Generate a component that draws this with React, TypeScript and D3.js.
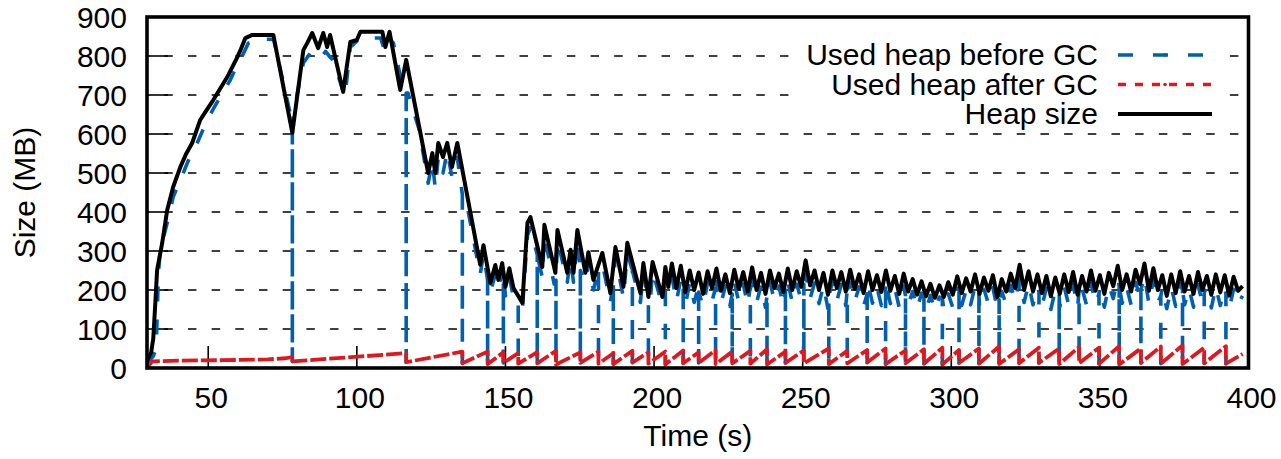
import React from "react";
import * as d3 from "d3";

// ---------- axis ticks ----------
const xTicks = [50, 100, 150, 200, 250, 300, 350, 400];
const yTicks = [0, 100, 200, 300, 400, 500, 600, 700, 800, 900];
const gridTicks = [100, 200, 300, 400, 500, 600, 700, 800];

// ---------- Heap size (black), hand-read (time s, MB) ----------
const heapEarlyT = [29.4, 30.8, 31.5, 32.2, 32.8, 34.5, 36.2, 38.2, 40.6, 42.5, 44.6, 47.3, 49.5, 51.7, 54, 56.4, 58, 59.8, 61, 62.5, 64.8, 71.9, 78.3, 82, 83.3, 85, 87, 88.7, 90, 91, 95.4, 97.8, 100, 101.2, 108.6, 109.6, 111, 114.6, 116.6, 124, 125.4, 126.4, 127.4, 129, 130.4, 132, 133.8, 141.5, 142.6, 144.9, 146.6, 147.6, 148.9, 150, 151.3, 152.7, 155.7, 157.4, 158.4, 162.4, 163.1, 166.8, 167.5, 170.8, 171.9, 172.9, 174.2, 176.9, 177.9, 179.6, 182.6, 185.3, 187, 189.7, 191, 195.4, 196.4, 198.1, 199.5, 202.8, 203.8, 204.8];
const heapEarlyV = [18, 40, 75, 167, 251, 320, 405, 464, 515, 548, 577, 636, 662, 687, 716, 746, 770, 797, 818, 846, 854, 854, 603, 815, 833, 859, 820, 859, 823, 854, 708, 836, 841, 862, 862, 823, 862, 713, 790, 500, 551, 500, 577, 541, 577, 515, 577, 265, 315, 218, 264, 226, 269, 208, 256, 205, 167, 372, 387, 259, 367, 244, 354, 244, 303, 244, 354, 244, 297, 226, 295, 192, 310, 208, 321, 192, 269, 182, 272, 182, 259, 208];

// late part: one reading every 1.5 s from 206 s
const lateStart = 206;
const lateStep = 1.5;
const heapLate = [
  268, 205, 262, 195, 250, 200, 245, 190, 248, 205,
  255, 198, 240, 192, 252, 203, 246, 196, 258, 200,
  244, 190, 250, 205, 242, 195, 255, 200, 248, 208,
  276, 212, 250, 200, 244, 188, 250, 205, 246, 196,
  252, 203, 240, 192, 248, 200, 238, 195, 250, 198,
  236, 190, 242, 196, 228, 188, 222, 184, 216, 180,
  212, 182, 220, 188, 235, 192, 230, 196, 240, 190,
  232, 198, 238, 182, 228, 196, 242, 205, 265, 200,
  248, 196, 240, 192, 236, 184, 232, 190, 240, 195,
  246, 188, 236, 196, 250, 198, 238, 190, 244, 210,
  262, 200, 240, 196, 252, 215, 268, 198, 256, 200,
  238, 185, 240, 192, 248, 196, 236, 190, 246, 200,
  236, 188, 240, 194, 238, 186, 234, 198, 210,
];

// ---------- Used heap before GC (blue), hand-read ----------
const usedEarlyT = [29.4, 30.5, 31.5, 32.5, 33.2, 33.8, 36.2, 38.2, 41.6, 44, 46.3, 49.7, 52, 54, 57.4, 59, 60.8, 63.5, 66.5, 72, 80, 82, 85, 86.5, 88.4, 89.5, 91, 92, 96, 97.8, 101.2, 108, 109.6, 110.6, 112.3, 115.6, 117.2, 121, 124, 125.4, 126.4, 127.4, 129, 130.4, 132, 133.8, 137, 141.5, 142.6, 144.9, 146.6, 147.6, 148.9, 150, 151.3, 152.7, 155.7, 157.4, 158.4, 162.4, 163.1, 166.4, 167.5, 170.8, 171.9, 172.9, 174.2, 176.9, 177.9, 179.6, 182.6, 185.3, 187, 189.7, 191, 195.4, 196.4, 198.6, 199.5, 202.8, 204.3];
const usedEarlyV = [8, 22, 30, 50, 233, 300, 372, 438, 500, 545, 577, 636, 668, 695, 738, 765, 790, 833, 843, 843, 705, 782, 815, 805, 800, 812, 797, 790, 695, 823, 846, 846, 808, 846, 833, 713, 705, 610, 474, 530, 460, 540, 500, 556, 490, 540, 420, 240, 292, 195, 240, 205, 245, 185, 232, 182, 150, 340, 360, 232, 338, 215, 328, 220, 280, 220, 330, 220, 270, 200, 268, 168, 285, 180, 295, 168, 245, 160, 248, 160, 232];
const usedLate = [
  235, 170, 228, 160, 220, 168, 212, 158, 218, 172,
  222, 165, 210, 158, 220, 170, 215, 162, 226, 168,
  212, 155, 220, 172, 210, 160, 222, 168, 215, 175,
  240, 178, 218, 165, 212, 152, 220, 172, 214, 160,
  220, 170, 208, 158, 216, 166, 206, 160, 218, 165,
  204, 155, 210, 162, 196, 152, 192, 150, 186, 148,
  182, 150, 190, 155, 205, 160, 200, 162, 210, 155,
  202, 165, 206, 150, 196, 162, 212, 172, 232, 168,
  216, 162, 208, 158, 205, 150, 200, 156, 208, 162,
  214, 155, 204, 162, 218, 165, 206, 156, 212, 178,
  230, 166, 208, 162, 220, 182, 236, 165, 224, 168,
  206, 152, 208, 158, 216, 162, 204, 156, 214, 166,
  204, 154, 208, 160, 206, 152, 202, 165, 185,
];

// ---------- GC events ----------
const gcTimes = [78.3, 116.6, 135.5, 144.0, 149.3, 154.3, 160.7, 167.0, 175.2, 181.3, 186.3, 192.7, 198.1, 203.8, 209.8, 215.0, 220.7, 226.3, 232.4, 238.0, 244.2, 250.4, 258.8, 265.0, 271.7, 277.9, 284.6, 290.8, 297.0, 302.6, 309.3, 316.1, 322.8, 329.5, 336.3, 343.0, 349.7, 356.5, 363.8, 370.5, 377.8, 385.1, 392.4];
// used heap just before each GC
const gcBefore = [628, 705, 445, 225, 242, 172, 290, 225, 250, 255, 220, 250, 165, 230, 200, 195, 205, 190, 210, 185, 200, 215, 185, 200, 190, 205, 185, 180, 178, 200, 190, 175, 220, 195, 185, 200, 190, 210, 200, 185, 200, 195, 190];
// used heap right after each GC (red, start of each tooth)
const gcAfter = [17, 15, 12, 10, 13, 11, 12, 9, 13, 11, 10, 14, 11, 9, 12, 13, 10, 12, 11, 9, 13, 12, 10, 12, 14, 10, 12, 11, 9, 13, 11, 10, 12, 13, 10, 12, 11, 9, 13, 11, 10, 12, 11];
// red value reached just before the following GC (end of each tooth)
const afterPeak = [38, 42, 42, 40, 38, 41, 44, 40, 42, 38, 44, 40, 42, 45, 40, 46, 42, 44, 48, 42, 45, 50, 44, 46, 50, 45, 48, 52, 46, 50, 55, 48, 52, 50, 54, 52, 56, 50, 55, 58, 52, 56, 36];
const lastTime = 398;
// red before the first GC
const afterStartT = [29.4, 30.2, 31.2, 40, 55, 70, 76, 78.3];
const afterStartV = [0, 8, 17, 19, 20, 22, 25, 28];

const BLUE = "#0060ad";
const RED = "#dd181f";
const FONT = "'Liberation Sans', Arial, Helvetica, sans-serif";
const FS = 30;

const L = 147, R = 1248.5, T = 17, B = 368;

export default function App() {
  const x = d3.scaleLinear().domain([29.4, 400]).range([L, R]);
  const y = d3.scaleLinear().domain([0, 900]).range([B, T]);
  const line = d3.line<[number, number]>().x((d) => x(d[0])).y((d) => y(d[1]));

  const heapPts: [number, number][] = [
    ...heapEarlyT.map((t, i) => [t, heapEarlyV[i]] as [number, number]),
    ...heapLate.map((v, i) => [lateStart + i * lateStep, v] as [number, number]),
  ];

  const usedRaw: [number, number][] = [
    ...usedEarlyT.map((t, i) => [t, usedEarlyV[i]] as [number, number]),
    ...usedLate.map((v, i) => [lateStart + i * lateStep, v] as [number, number]),
  ];
  gcTimes.forEach((t, i) => {
    usedRaw.push([t, gcBefore[i]], [t, gcAfter[i]], [t, gcBefore[i]]);
  });
  const usedPts = usedRaw
    .map((d, i) => ({ d, i }))
    .sort((a, b) => a.d[0] - b.d[0] || a.i - b.i)
    .map((o) => o.d);

  const afterPts: [number, number][] = afterStartT.map((t, i) => [t, afterStartV[i]] as [number, number]);
  gcTimes.forEach((t, i) => {
    afterPts.push([t, gcAfter[i]]);
    const tEnd = i < gcTimes.length - 1 ? gcTimes[i + 1] : lastTime;
    afterPts.push([tEnd, afterPeak[i]]);
  });

  const legendRows = [
    { label: "Used heap before GC", color: BLUE, dash: "15 20", w: 3.5 },
    { label: "Used heap after GC", color: RED, dash: "8 9", w: 3.5 },
    { label: "Heap size", color: "#000", dash: undefined, w: 4 },
  ];

  return (
    <svg
      width={1281}
      height={459}
      style={{ position: "absolute", left: 0, top: 0, display: "block", background: "#fff" }}
      fontFamily={FONT}
    >
      <defs>
        <clipPath id="plotclip">
          <rect x={L} y={T} width={R - L} height={B - T} />
        </clipPath>
      </defs>
      <rect x={0} y={0} width={1281} height={459} fill="#fff" />

      {/* grid */}
      {gridTicks.map((v) => (
        <line
          key={"g" + v}
          x1={L}
          x2={R}
          y1={y(v)}
          y2={y(v)}
          stroke="#000"
          strokeWidth={1.6}
          strokeDasharray="8.5 15.18"
          strokeDashoffset={6.4}
        />
      ))}
      {/* y ticks */}
      {gridTicks.map((v) => (
        <line key={"yt" + v} x1={L} x2={L + 21} y1={y(v)} y2={y(v)} stroke="#000" strokeWidth={1.6} />
      ))}
      {/* x ticks */}
      {xTicks.map((v) => (
        <line key={"xt" + v} x1={x(v)} x2={x(v)} y1={B} y2={B - 22} stroke="#000" strokeWidth={1.6} />
      ))}

      {/* data */}
      <g clipPath="url(#plotclip)" fill="none" strokeLinejoin="round">
        <path d={line(usedPts) || ""} stroke={BLUE} strokeWidth={3.6} strokeDasharray="15 18" />
        <path d={line(afterPts) || ""} stroke={RED} strokeWidth={3.8} strokeDasharray="16 3" />
        <path d={line(heapPts) || ""} stroke="#000" strokeWidth={4} />
      </g>

      {/* y labels */}
      {yTicks.map((v) => (
        <text key={"yl" + v} x={127} y={y(v)} dy="0.36em" textAnchor="end" fontSize={FS}>
          {v}
        </text>
      ))}
      {/* x labels */}
      {xTicks.map((v) => (
        <text key={"xl" + v} x={x(v) + 3} y={408} textAnchor="middle" fontSize={FS}>
          {v}
        </text>
      ))}
      <text x={(L + R) / 2} y={446} textAnchor="middle" fontSize={FS}>
        Time (s)
      </text>
      <text
        transform={`translate(35,${(T + B) / 2}) rotate(-90)`}
        textAnchor="middle"
        fontSize={FS}
      >
        Size (MB)
      </text>

      {/* legend */}
      <rect x={798} y={36} width={428} height={94} fill="#fff" />
      {legendRows.map((r, i) => {
        const base = 65 + i * 29.5;
        const ly = base - 10;
        return (
          <g key={r.label}>
            <text x={1098} y={base} textAnchor="end" fontSize={FS}>
              {r.label}
            </text>
            <line
              x1={1118}
              x2={1212}
              y1={ly}
              y2={ly}
              stroke={r.color}
              strokeWidth={r.w}
              strokeDasharray={r.dash}
            />
            <circle cx={1165} cy={ly} r={1.8} fill={r.color} />
          </g>
        );
      })}

      {/* border */}
      <rect x={L} y={T} width={R - L} height={B - T} fill="none" stroke="#000" strokeWidth={3.6} />
    </svg>
  );
}
